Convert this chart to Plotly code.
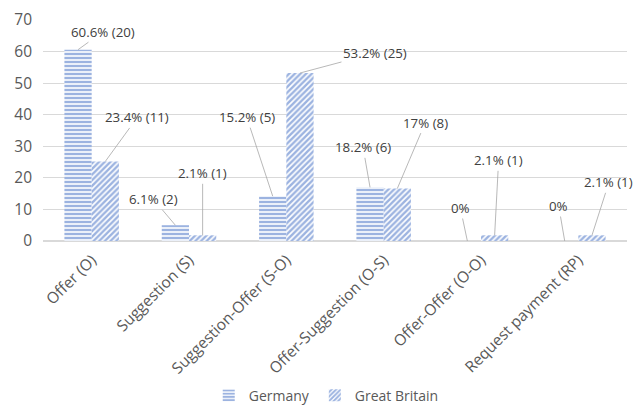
import plotly.graph_objects as go

categories = ["Offer (O)", "Suggestion (S)", "Suggestion-Offer (S-O)",
              "Offer-Suggestion (O-S)", "Offer-Offer (O-O)", "Request payment (RP)"]
germany = [60.6, 5.0, 14.2, 17.0, 0.0, 0.0]
britain = [25.2, 1.8, 53.2, 16.6, 1.8, 1.8]
germany_labels = ["60.6% (20)", "6.1% (2)", "15.2% (5)", "18.2% (6)", "0%", "0%"]
britain_labels = ["23.4% (11)", "2.1% (1)", "53.2% (25)", "17% (8)", "2.1% (1)", "2.1% (1)"]

# label offsets (pixels) relative to bar tops
germany_off = [(25, -18), (-22, -26), (-26, -79), (-7, -40), (-7, -33), (-6, -35)]
britain_off = [(32, -44), (0, -62), (75, -20), (28, -66), (4, -75), (17, -53)]

BLUE = "#3A68C2"
bargap = 0.44
half = (1 - bargap) / 4  # center offset of each bar within the group

xs = list(range(len(categories)))

fig = go.Figure()
fig.add_trace(go.Bar(
    name="Germany", x=xs, y=germany,
    marker=dict(color="white", line=dict(width=0),
                pattern=dict(shape="-", fgcolor=BLUE, bgcolor="white",
                             size=4, solidity=0.6, fillmode="overlay")),
))
fig.add_trace(go.Bar(
    name="Great Britain", x=xs, y=britain,
    marker=dict(color="white", line=dict(width=0),
                pattern=dict(shape="/", fgcolor=BLUE, bgcolor="white",
                             size=4, solidity=0.6, fillmode="overlay")),
))

annotations = []
for i in xs:
    for vals, labels, offs, sign in ((germany, germany_labels, germany_off, -1),
                                      (britain, britain_labels, britain_off, 1)):
        ax, ay = offs[i]
        annotations.append(dict(
            x=i + sign * half, y=vals[i], xref="x", yref="y",
            text=labels[i], showarrow=True, arrowhead=0, arrowwidth=0.8,
            arrowcolor="#A6A6A6", ax=ax, ay=ay, standoff=0,
            font=dict(family="Open Sans, Noto Sans, sans-serif", size=13.3, color="#404040"),
        ))

fig.update_layout(
    width=639, height=408,
    margin=dict(l=43, r=12, t=20, b=167, autoexpand=False),
    paper_bgcolor="white", plot_bgcolor="white",
    barmode="group", bargap=bargap, bargroupgap=0,
    font=dict(family="Open Sans, Noto Sans, sans-serif", color="#595959", size=13),
    showlegend=True,
    legend=dict(orientation="h", x=0.485, xanchor="center", y=-0.70, yanchor="middle",
                font=dict(size=14, color="#595959"), itemwidth=30,
                tracegroupgap=0),
    annotations=annotations,
)
fig.update_xaxes(
    range=[-0.5, len(categories) - 0.5], tickvals=xs, ticktext=categories,
    tickangle=-45, showgrid=False, showline=False, ticks="", automargin=False,
    tickfont=dict(size=15.5, color="#595959"), ticklabelstandoff=6,
)
fig.update_yaxes(
    range=[0, 70], dtick=10, showgrid=True, gridcolor="#D9D9D9", gridwidth=1,
    zeroline=True, zerolinecolor="#D9D9D9", showline=False, ticks="", automargin=False,
    tickfont=dict(size=15.5, color="#595959"), ticklabelstandoff=10,
)

fig.write_html("out.html")
